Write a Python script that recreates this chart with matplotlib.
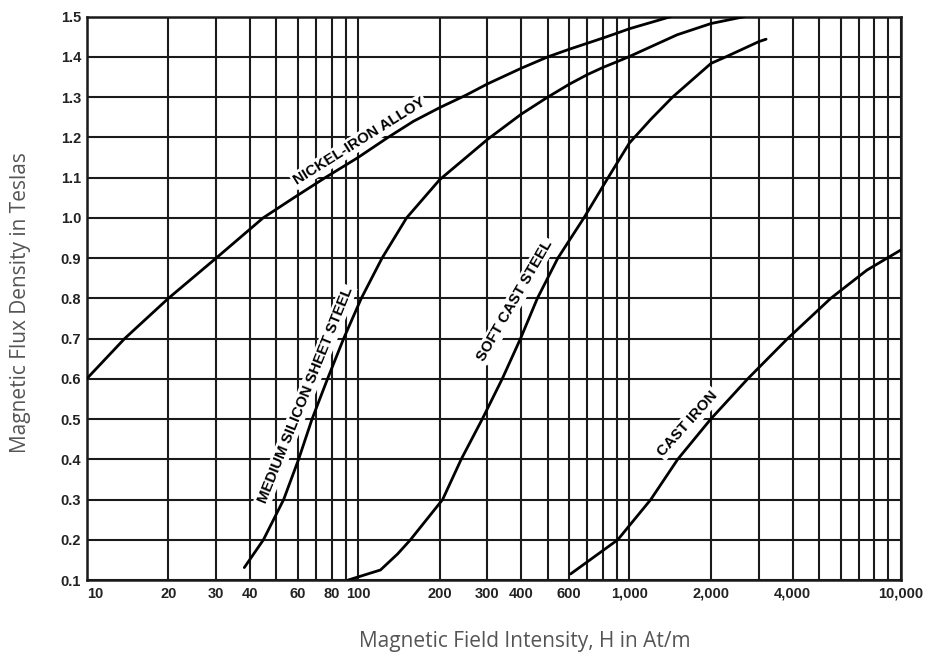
import numpy as np
import matplotlib
matplotlib.use("Agg")
import matplotlib.pyplot as plt

# B-H curves (H in At/m, B in T)
nickel_h = [10, 13.8, 20, 30, 44.7, 58, 75.7, 100, 129, 160, 200, 250, 300, 400, 500,
            600, 700, 800, 900, 1000, 1420]
nickel_b = [0.6, 0.7, 0.8, 0.9, 1.0, 1.05, 1.1, 1.15, 1.2, 1.24, 1.274, 1.305, 1.333, 1.372, 1.40,
            1.419, 1.434, 1.447, 1.459, 1.47, 1.5]

silicon_h = [38.1, 44.8, 53.2, 60.4, 67.7, 77.2, 88.5, 102.8, 122.6, 151, 200, 250, 300, 400, 500,
             600, 700, 800, 900, 1000, 1500, 2000, 2650]
silicon_b = [0.131, 0.2, 0.3, 0.4, 0.5, 0.6, 0.7, 0.8, 0.9, 1.0, 1.095, 1.15, 1.195, 1.258, 1.3,
             1.332, 1.356, 1.374, 1.388, 1.401, 1.455, 1.483, 1.5]

cast_steel_h = [92, 121, 140, 156, 205, 240, 287, 340, 397, 458, 545, 680, 835, 1000,
                1200, 1442, 2000, 2265, 3000, 3190]
cast_steel_b = [0.1, 0.125, 0.165, 0.2, 0.3, 0.4, 0.5, 0.6, 0.7, 0.8, 0.9, 1.0, 1.1, 1.186,
                1.245, 1.3, 1.384, 1.4, 1.438, 1.444]

cast_iron_h = [607, 906, 1199, 1507, 1995, 2730, 3830, 5520, 7500, 10000]
cast_iron_b = [0.115, 0.2, 0.3, 0.4, 0.5, 0.6, 0.7, 0.8, 0.87, 0.92]

x_ticks = [10, 20, 30, 40, 60, 80, 100, 200, 300, 400, 600, 1000, 2000, 4000, 10000]
x_tick_labels = ["10", "20", "30", "40", "60", "80", "100", "200", "300", "400",
                 "600", "1,000", "2,000", "4,000", "10,000"]
y_ticks = [round(0.1 * i, 1) for i in range(1, 16)]

# labels: text, H, B, angle
curve_labels = [
    ("NICKEL-IRON ALLOY", 101, 1.19, 32),
    ("MEDIUM SILICON SHEET STEEL", 64, 0.56, 68),
    ("SOFT CAST STEEL", 378, 0.795, 60),
    ("CAST IRON", 1641, 0.489, 48),
]

fig = plt.figure(figsize=(9.28, 6.54), dpi=100)
ax = fig.add_axes([0.0934, 0.1131, 0.8772, 0.8614])
ax.set_xscale("log")
ax.set_xlim(10, 10000)
ax.set_ylim(0.1, 1.5)

# grid: every integer multiple in each decade, every 0.1 T
grid_x = [m * 10 ** d for d in range(1, 4) for m in range(1, 10)] + [10000]
for gx in grid_x:
    ax.axvline(gx, color="#1a1a1a", lw=1.5, zorder=1)
for gy in y_ticks:
    ax.axhline(gy, color="#1a1a1a", lw=1.5, zorder=1)

for h, b in [(nickel_h, nickel_b), (silicon_h, silicon_b),
             (cast_steel_h, cast_steel_b), (cast_iron_h, cast_iron_b)]:
    ax.plot(h, b, color="black", lw=2.0, zorder=5, solid_capstyle="round",
            solid_joinstyle="round")

label_font = ["Liberation Sans Narrow", "Liberation Sans", "DejaVu Sans"]
for text, h, b, ang in curve_labels:
    ax.text(h, b, text, rotation=ang, rotation_mode="anchor", ha="center", va="center",
            fontsize=10.8, fontweight="bold", family=label_font, zorder=4,
            bbox=dict(boxstyle="square,pad=0.12", fc="white", ec="none"))

ax.set_xticks(x_ticks)
ax.set_xticklabels(x_tick_labels)
ax.xaxis.set_minor_locator(matplotlib.ticker.NullLocator())
ax.set_yticks(y_ticks)
ax.set_yticklabels([f"{v:.1f}" for v in y_ticks])
ax.tick_params(axis="x", length=0, pad=5)
ax.tick_params(axis="y", length=0, pad=4)
for lab in ax.get_xticklabels() + ax.get_yticklabels():
    lab.set_family(["Liberation Sans", "DejaVu Sans"])
    lab.set_fontsize(10.5)
    lab.set_fontweight("bold")
    lab.set_color("#222222")
ax.get_xticklabels()[0].set_horizontalalignment("left")

for sp in ax.spines.values():
    sp.set_linewidth(1.8)
    sp.set_color("#1a1a1a")

fig.text(0.0223, 0.537, "Magnetic Flux Density in Teslas", rotation=90, ha="center",
         va="center", fontsize=15, color="#555555", family=["Open Sans", "DejaVu Sans"])
fig.text(0.566, 0.019, "Magnetic Field Intensity, H in At/m", ha="center", va="center",
         fontsize=15, color="#555555", family=["Open Sans", "DejaVu Sans"])

fig.savefig("out.png", dpi=100)
